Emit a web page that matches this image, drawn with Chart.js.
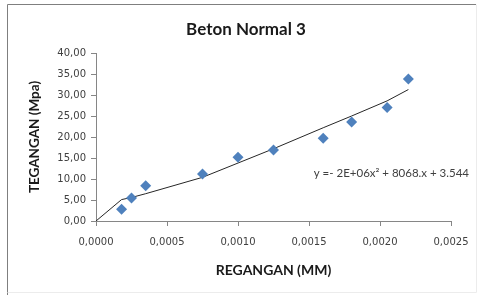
<!DOCTYPE html>
<html>
<head>
<meta charset="utf-8">
<script src="https://cdn.jsdelivr.net/npm/chart.js@4"></script>
<style>
html,body{margin:0;padding:0;background:#fff;}
#wrap{width:480px;height:295px;position:relative;}
</style>
</head>
<body>
<div id="wrap"><canvas id="c" width="480" height="295"></canvas></div>
<script>
const chartTitle = "Beton Normal 3";
const xTitle = "REGANGAN (MM)";
const yTitle = "TEGANGAN (Mpa)";
const equation = "y =- 2E+06x\u00B2 + 8068.x + 3.544";

const strainData = [0.00018, 0.00025, 0.00035, 0.00075, 0.00100, 0.00125, 0.00160, 0.00180, 0.00205, 0.00220];
const stressData = [2.8, 5.5, 8.4, 11.2, 15.2, 16.9, 19.7, 23.6, 27.0, 33.8];

const trendX = [0, 0.00018, 0.00025, 0.00035, 0.00075, 0.00100, 0.00125, 0.00160, 0.00180, 0.00205, 0.00220];
const trendY = [0, 5.1, 5.6, 6.5, 10.4, 13.8, 17.2, 22.2, 25.0, 28.6, 31.3];

const xMin = 0, xMax = 0.0025, xStep = 0.0005;
const yMin = 0, yMax = 40, yStep = 5;

const framePlugin = {
  id: 'frame',
  afterDraw(chart) {
    const ctx = chart.ctx;
    ctx.save();
    ctx.strokeStyle = '#7f7f7f';
    ctx.lineWidth = 1;
    ctx.beginPath();
    ctx.moveTo(7.5, 295);
    ctx.lineTo(7.5, 4.5);
    ctx.lineTo(476, 4.5);
    ctx.stroke();
    ctx.strokeStyle = '#ececec';
    ctx.beginPath();
    ctx.moveTo(476.5, 4.5);
    ctx.lineTo(476.5, 292.5);
    ctx.lineTo(7.5, 292.5);
    ctx.stroke();
    // chart title
    ctx.fillStyle = '#1a1a1a';
    ctx.font = 'bold 17px Lato';
    ctx.textAlign = 'center';
    ctx.textBaseline = 'middle';
    ctx.fillText(chartTitle, 246, 30);
    // equation label
    ctx.fillStyle = '#404040';
    ctx.font = '11.5px Lato';
    ctx.textAlign = 'right';
    ctx.textBaseline = 'middle';
    ctx.fillText(equation, 469, 173);
    ctx.restore();
  }
};

const fmt = (v, d) => Number(v).toFixed(d).replace('.', ',');

new Chart(document.getElementById('c'), {
  type: 'scatter',
  data: {
    datasets: [
      {
        label: 'Trend',
        data: trendX.map((x, i) => ({x: x, y: trendY[i]})),
        showLine: true,
        borderColor: '#262626',
        borderWidth: 1,
        pointRadius: 0,
        fill: false,
        tension: 0,
        order: 2
      },
      {
        label: 'Data',
        data: strainData.map((x, i) => ({x: x, y: stressData[i]})),
        pointStyle: 'rectRot',
        pointRadius: 5.5,
        backgroundColor: '#4F81BD',
        borderColor: '#4F81BD',
        borderWidth: 0,
        showLine: false,
        order: 1
      }
    ]
  },
  options: {
    responsive: false,
    animation: false,
    devicePixelRatio: 1,
    layout: {padding: {left: 23, right: 29, top: 53, bottom: 12}},
    plugins: {
      legend: {display: false},
      tooltip: {enabled: false},
      title: {display: false}
    },
    scales: {
      x: {
        type: 'linear',
        min: xMin, max: xMax,
        ticks: {
          stepSize: xStep,
          color: '#404040',
          font: {family: 'DejaVu Sans', size: 10},
          padding: 10,
          callback: v => fmt(v, 4)
        },
        grid: {drawOnChartArea: false, tickLength: 5, color: '#868686'},
        border: {color: '#868686'},
        title: {
          display: true, text: xTitle, color: '#1a1a1a',
          font: {family: 'Lato', size: 14, weight: 'bold'},
          padding: {top: 4, bottom: 4}
        },
        afterFit: s => { s.height = 62; }
      },
      y: {
        type: 'linear',
        min: yMin, max: yMax,
        ticks: {
          stepSize: yStep,
          color: '#404040',
          font: {family: 'DejaVu Sans', size: 10},
          padding: 5,
          callback: v => fmt(v, 2)
        },
        grid: {drawOnChartArea: false, tickLength: 5, color: '#868686'},
        border: {color: '#868686'},
        title: {
          display: true, text: yTitle, color: '#1a1a1a',
          font: {family: 'Lato', size: 13.5, weight: 'bold'},
          padding: {top: 4, bottom: 4}
        },
        afterFit: s => { s.width = 73; }
      }
    }
  },
  plugins: [framePlugin]
});
</script>
</body>
</html>
